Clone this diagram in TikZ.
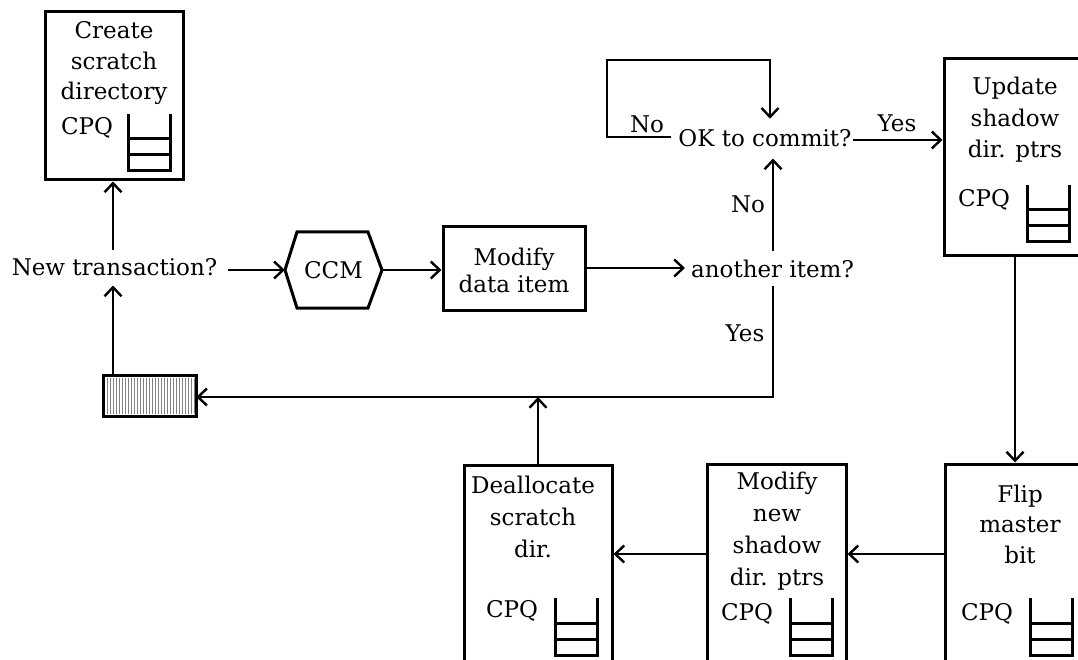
\documentclass[tikz,border=0pt]{standalone}
\usepackage{fontspec}
\setmainfont{DejaVu Serif}
\usetikzlibrary{arrows.meta}
\tikzset{
  x=1pt, y=-1pt,
  txt/.style={font=\fontsize{23}{31}\selectfont, inner sep=0pt, align=center, anchor=base},
  boxx/.style={draw, line width=3pt, inner sep=0pt},
  ln/.style={line width=2.8pt},
  arr/.style={ln, -{Straight Barb[length=9pt,width=17pt,line width=2.4pt]}},
  stackq/.pic={\draw[line width=3pt] (0,0) -- (0,57) -- (42,57) -- (42,0);
                \draw[line width=3pt] (0,25) -- (42,25) (0,41) -- (42,41);}
}
\begin{document}
\begin{tikzpicture}
\useasboundingbox (0,0) rectangle (1078,660);
\clip (0,0) rectangle (1078,660);
% boxes
\node[boxx, minimum width=138, minimum height=168] (create) at (114,96) {};
\node[boxx, minimum width=156, minimum height=197] (update) at (1022,157.5) {};
\node[boxx, minimum width=155, minimum height=236] (flip) at (1022.5,582) {};
\node[boxx, minimum width=139, minimum height=236] (modnew) at (776.5,582) {};
\node[boxx, minimum width=148, minimum height=235] (dealloc) at (538,582.5) {};
\node[boxx, minimum width=142, minimum height=83] (moddata) at (514,268.5) {};
% box texts (anchor=base is the last line's baseline)
\node[txt, font=\fontsize{23}{30.5}\selectfont] (tcreate) at (114,100) {Create\\scratch\\directory};
\node[txt] (cpq1) at (87,135) {CPQ};
\pic at (128,114) {stackq};
\node[txt, font=\fontsize{23}{31.5}\selectfont] (tupdate) at (1015,158) {Update\\shadow\\dir. ptrs};
\node[txt] (cpq2) at (984,207) {CPQ};
\pic at (1027,185) {stackq};
\node[txt, font=\fontsize{23}{30.5}\selectfont] (tflip) at (1020,563) {Flip\\master\\bit};
\node[txt] (cpq3) at (987,620) {CPQ};
\pic at (1030,598) {stackq};
\node[txt, font=\fontsize{23}{32}\selectfont] (tmodnew) at (777,585) {Modify\\new\\shadow\\dir. ptrs};
\node[txt] (cpq4) at (747,620) {CPQ};
\pic at (790,598) {stackq};
\node[txt, font=\fontsize{23}{32}\selectfont] (tdealloc) at (533,557) {Deallocate\\scratch\\dir.};
\node[txt] (cpq5) at (512,617) {CPQ};
\pic at (555,598) {stackq};
\node[txt, font=\fontsize{23}{27}\selectfont] (tmoddata) at (514,292) {Modify\\data item};
% hexagon
\node[minimum width=97, minimum height=76, inner sep=0pt] (ccm) at (333.5,270) {};
\draw[line width=3pt, line join=miter] (285,270) -- (297,232) -- (368,232) -- (382,270) -- (368,308) -- (297,308) -- cycle;
\node[txt] (tccm) at (333.5,278) {CCM};
% hatched box
\node[minimum width=92, minimum height=40, inner sep=0pt] (hatch) at (150,396) {};
\foreach \i in {107,110,...,194} \draw[gray, line width=0.8pt] (\i,378) -- (\i,414);
\draw[line width=3pt] (hatch.south west) rectangle (hatch.north east);
% free-standing texts
\node[txt, inner xsep=11pt, inner ysep=9pt] (newt) at (114.5,276) {New transaction?};
\node[txt, inner xsep=6pt, inner ysep=8pt] (another) at (772.5,277) {another item?};
\node[txt, inner xsep=1pt, inner ysep=11pt] (ok) at (765,147) {OK to commit?};
\node[txt] (lno1) at (647,133) {No};
\node[txt] (lyes1) at (897,132) {Yes};
\node[txt] (lno2) at (748,213) {No};
\node[txt] (lyes2) at (745,341) {Yes};
% connectors
\coordinate (vx) at (113,0);
\coordinate (ax) at (773,0);
\coordinate (uf) at (1015,0);
\coordinate (my) at (0,554);
\coordinate (hy) at (0,397);
\draw[arr] (newt.north -| vx) -- (create.south -| vx);
\draw[arr] (hatch.north -| vx) -- (newt.south -| vx);
\draw[arr] (newt.east |- 0,270) -- (ccm.west);
\draw[arr] (ccm.east) -- (moddata.west |- 0,270);
\draw[arr] (moddata.east |- 0,268) -- (another.west |- 0,268);
\draw[arr] (another.north -| ax) -- (ok.south -| ax);
\draw[arr] (another.south -| ax) -- (ax |- hy) -- (hatch.east |- hy);
\draw[arr] (dealloc.north) -- (dealloc.north |- hy);
\draw[arr] ([xshift=-6pt]ok.west |- 0,137) -- (607,137) -- (607,60) -- (770,60) -- (ok.north -| 770,0);
\draw[arr] (ok.east |- 0,140) -- (update.west |- 0,140);
\draw[arr] (update.south -| uf) -- (flip.north -| uf);
\draw[arr] (flip.west |- my) -- (modnew.east |- my);
\draw[arr] (modnew.west |- my) -- (dealloc.east |- my);
\end{tikzpicture}
\end{document}
